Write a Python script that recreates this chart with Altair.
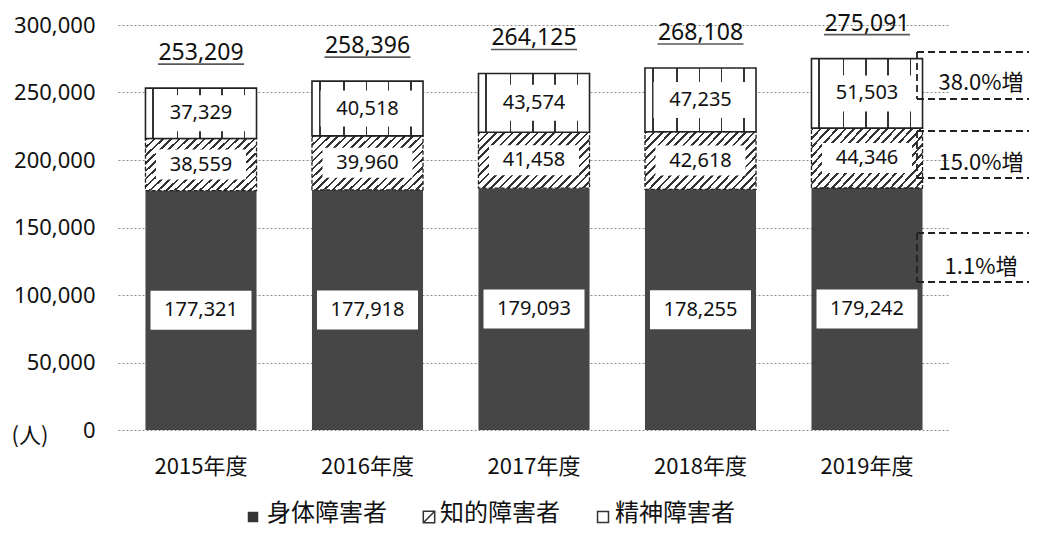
import altair as alt
import pandas as pd

# ---------------- data ----------------
years = ["2015年度", "2016年度", "2017年度", "2018年度", "2019年度"]
body = [177321, 177918, 179093, 178255, 179242]      # 身体障害者
intel = [38559, 39960, 41458, 42618, 44346]           # 知的障害者
mental = [37329, 40518, 43574, 47235, 51503]          # 精神障害者
series_names = ["身体障害者", "知的障害者", "精神障害者"]
growth_labels = ["38.0%増", "15.0%増", "1.1%増"]
y_ticks = [0, 50000, 100000, 150000, 200000, 250000, 300000]
unit_label = "(人)"

# ---------------- derived table ----------------
df = pd.DataFrame({"year": years, "body": body, "intel": intel, "mental": mental})
df["c1"] = df["body"]
df["c2"] = df["body"] + df["intel"]
df["c3"] = df["c2"] + df["mental"]
df["total_lbl"] = df["c3"].map(lambda v: f"{v:,}")

rows = []
for _, r in df.iterrows():
    rows.append({"year": r.year, "seg": "body", "mid": r.body / 2, "lbl": f"{r.body:,}"})
    rows.append({"year": r.year, "seg": "intel", "mid": r.c1 + r.intel / 2, "lbl": f"{r.intel:,}"})
    rows.append({"year": r.year, "seg": "mental", "mid": r.c2 + r.mental / 2, "lbl": f"{r.mental:,}"})
lab = pd.DataFrame(rows)

# ---------------- styles ----------------
W, H = 832, 405
NUM_FONT = "Noto Sans"
JP_FONT = "Noto Sans CJK JP"
DARK = "#464646"
INK = "#111111"


def hatch_gradient(n=20, frac=0.32, col="#333333"):
    stops = []
    for i in range(n):
        a = i / n
        b = (i + frac) / n
        stops += [
            {"offset": a, "color": "white"},
            {"offset": a, "color": col},
            {"offset": b, "color": col},
            {"offset": b, "color": "white"},
        ]
    stops.append({"offset": 1, "color": "white"})
    return {"gradient": "linear", "x1": 0, "y1": 0, "x2": 1.2, "y2": 0.6, "stops": stops}


def vline_gradient(pos=(0.07, 0.29, 0.49, 0.69, 0.89), w=0.014, col="#333333"):
    stops = [{"offset": 0, "color": "white"}]
    for p in pos:
        stops += [
            {"offset": p - w / 2, "color": "white"},
            {"offset": p - w / 2, "color": col},
            {"offset": p + w / 2, "color": col},
            {"offset": p + w / 2, "color": "white"},
        ]
    stops.append({"offset": 1, "color": "white"})
    return {"gradient": "linear", "x1": 0, "y1": 0, "x2": 1, "y2": 0, "stops": stops}


def box_path(w, h):
    r = h / w
    return f"M-1,{-r:.4f}H1V{r:.4f}H-1Z"


yscale = alt.Scale(domain=[0, 300000], nice=False)
xenc = alt.X(
    "year:N",
    sort=years,
    scale=alt.Scale(paddingInner=0.333, paddingOuter=0.165),
    axis=alt.Axis(
        title=None, labelFont=JP_FONT, labelFontSize=22, labelColor=INK,
        labelAngle=0, labelPadding=36, labelBaseline="middle",
        ticks=False, domain=False, grid=False,
    ),
)
yaxis = alt.Axis(
    values=y_ticks, format=",d", title=None, labelFont=NUM_FONT, labelFontSize=22,
    labelColor=INK, labelPadding=23, ticks=False, domain=False, grid=True,
    gridColor="#8a8a8a", gridDash=[2, 2], gridWidth=1,
)


def Y(field):
    return alt.Y(field, scale=yscale, axis=yaxis, title=None)


base = alt.Chart(df)

body_bar = base.mark_bar(fill=DARK).encode(x=xenc, y=Y("body:Q"))
intel_bar = base.mark_bar(
    fill=hatch_gradient(), stroke="#222222", strokeWidth=1.3, strokeDash=[4, 2]
).encode(x=xenc, y=Y("c1:Q"), y2="c2:Q")
mental_bar = base.mark_bar(
    fill=vline_gradient(), stroke="#222222", strokeWidth=1.6
).encode(x=xenc, y=Y("c2:Q"), y2="c3:Q")

labc = alt.Chart(lab)
box_body = labc.transform_filter(alt.datum.seg == "body").mark_point(
    shape=box_path(101, 39), size=101 ** 2, filled=True, fill="white", opacity=1, strokeWidth=0
).encode(x=xenc, y=Y("mid:Q"))
box_intel = labc.transform_filter(alt.datum.seg == "intel").mark_point(
    shape=box_path(90, 30), size=90 ** 2, filled=True, fill="white", opacity=1, strokeWidth=0
).encode(x=xenc, y=Y("mid:Q"))
box_mental = labc.transform_filter(alt.datum.seg == "mental").mark_point(
    shape=box_path(94, 36), size=94 ** 2, filled=True, fill="white", opacity=1, strokeWidth=0
).encode(x=xenc, y=Y("mid:Q"))
seg_text = labc.mark_text(font=NUM_FONT, fontSize=20, color=INK).encode(
    x=xenc, y=Y("mid:Q"), text="lbl:N"
)

total_text = base.mark_text(font=NUM_FONT, fontSize=23, color=INK, dy=-35).encode(
    x=xenc, y=Y("c3:Q"), text="total_lbl:N"
)
total_ul = base.mark_tick(color=INK, thickness=1.6, size=86, yOffset=-24).encode(
    x=xenc, y=Y("c3:Q")
)

one = alt.Chart(pd.DataFrame({"k": [0]}))

# annotation dashed boxes (layout in pixels, right of the last bar)
ann_layers = []
ann_boxes = [(27, 74, 58), (106, 153, 138), (208, 257, 242)]  # top, bottom, text y
ax0, ax1, atx = 799, 930, 863
for lbl, (t, b, ty) in zip(growth_labels, ann_boxes):
    dash = dict(color="#222222", strokeWidth=1.8, strokeDash=[7, 4])
    ann_layers.append(one.mark_rule(**dash).encode(x=alt.value(ax0), x2=alt.value(ax1), y=alt.value(t)))
    ann_layers.append(one.mark_rule(**dash).encode(x=alt.value(ax0), x2=alt.value(ax1), y=alt.value(b)))
    ann_layers.append(one.mark_rule(**dash).encode(x=alt.value(ax0), y=alt.value(t), y2=alt.value(b)))
    ann_layers.append(
        one.mark_text(font=JP_FONT, fontSize=22, color=INK, align="center").encode(
            x=alt.value(atx), y=alt.value(ty), text=alt.value(lbl)
        )
    )

unit = one.mark_text(font=JP_FONT, fontSize=22, color=INK, align="center").encode(
    x=alt.value(-88), y=alt.value(411), text=alt.value(unit_label)
)

# custom legend
ly = 489
leg_sym_x = [135, 311, 485]
leg_txt_x = [149, 322, 497]
legend_layers = [
    one.mark_point(shape="square", size=110, filled=True, fill="#333333", opacity=1).encode(
        x=alt.value(leg_sym_x[0]), y=alt.value(ly + 3)),
    one.mark_point(shape="M-1,-1H1V1H-1ZM-1,1L1,-1", size=130, filled=False, stroke="#333333",
                   strokeWidth=1.5, opacity=1).encode(x=alt.value(leg_sym_x[1]), y=alt.value(ly + 3)),
    one.mark_point(shape="square", size=120, filled=False, stroke="#333333", strokeWidth=1.5,
                   opacity=1).encode(x=alt.value(leg_sym_x[2]), y=alt.value(ly + 3)),
]
for name, tx in zip(series_names, leg_txt_x):
    legend_layers.append(
        one.mark_text(font=JP_FONT, fontSize=24, color=INK, align="left").encode(
            x=alt.value(tx), y=alt.value(ly), text=alt.value(name)
        )
    )

chart = alt.layer(
    body_bar, intel_bar, mental_bar,
    box_body, box_intel, box_mental, seg_text,
    total_text, total_ul,
    *ann_layers, unit, *legend_layers,
).properties(
    width=W, height=H,
    autosize=alt.AutoSizeParams(type="none"),
    padding={"left": 110, "top": 17, "right": 79, "bottom": 97},
    background="white",
).configure_view(stroke=None)

chart.save("out.html", embed_options={"renderer": "svg", "actions": False})
